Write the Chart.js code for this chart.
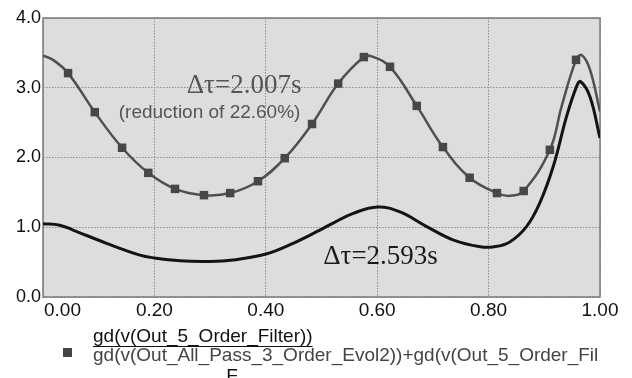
<!DOCTYPE html>
<html>
<head>
<meta charset="utf-8">
<script src="https://cdn.jsdelivr.net/npm/chart.js@4/dist/chart.umd.min.js"></script>
<style>
  body { margin: 0; background: #fff; }
  #wrap { width: 632px; height: 378px; }
</style>
</head>
<body>
<div id="wrap"><canvas id="gdChart" width="632" height="378"></canvas></div>
<script>
// Group delay of the 5th order filter alone (black curve)
const filterX = [0, 0.03, 0.054, 0.114, 0.174, 0.2, 0.246, 0.294, 0.341, 0.402, 0.449, 0.497, 0.521, 0.557, 0.601, 0.641, 0.689, 0.736, 0.785, 0.81, 0.838, 0.868, 0.892, 0.916, 0.94, 0.958, 0.965, 0.982, 1.0];
const filterY = [1.05, 1.03, 0.96, 0.77, 0.60, 0.56, 0.52, 0.51, 0.53, 0.62, 0.77, 0.96, 1.06, 1.20, 1.29, 1.22, 1.01, 0.82, 0.72, 0.72, 0.79, 1.01, 1.35, 1.87, 2.59, 3.02, 3.09, 2.87, 2.28];

// Filter + 3rd order all-pass (gray curve); 1 = square marker drawn at that point
const equalX = [0, 0.018, 0.045, 0.093, 0.142, 0.189, 0.237, 0.289, 0.336, 0.386, 0.434, 0.483, 0.530, 0.576, 0.59, 0.623, 0.671, 0.718, 0.766, 0.815, 0.838, 0.863, 0.910, 0.931, 0.957, 0.967, 0.982, 1.0];
const equalY = [3.46, 3.40, 3.21, 2.65, 2.14, 1.78, 1.55, 1.46, 1.49, 1.66, 1.99, 2.48, 3.06, 3.44, 3.45, 3.30, 2.74, 2.15, 1.71, 1.49, 1.45, 1.52, 2.11, 2.73, 3.40, 3.47, 3.26, 2.66];
const equalMark = [0, 0, 1, 1, 1, 1, 1, 1, 1, 1, 1, 1, 1, 1, 0, 1, 1, 1, 1, 1, 0, 1, 1, 0, 1, 0, 0, 0];

const xTicks = [0, 0.2, 0.4, 0.6, 0.8, 1.0];
const legendLabels = ['gd(v(Out_5_Order_Filter))', 'gd(v(Out_All_Pass_3_Order_Evol2))+gd(v(Out_5_Order_Filter))'];
const xTitle = 'F';

const SANS = "'Liberation Sans', Arial, sans-serif";
const SERIF = "'Liberation Serif', 'Times New Roman', serif";

const toPoints = (xs, ys) => xs.map((x, i) => ({ x: x, y: ys[i] }));

// plot background, frame, x labels, notes and legend
const decor = {
    id: 'decor',
    beforeDraw(chart) {
        const { ctx, chartArea: a } = chart;
        ctx.save();
        ctx.fillStyle = '#dddddd';
        ctx.fillRect(a.left, a.top, a.right - a.left, a.bottom - a.top);
        ctx.restore();
    },
    beforeDatasetsDraw(chart) {
        const { ctx, chartArea: a } = chart;
        ctx.save();
        ctx.strokeStyle = '#7a7a7a';
        ctx.lineWidth = 1.5;
        ctx.strokeRect(a.left, a.top, a.right - a.left, a.bottom - a.top);
        ctx.restore();
    },
    afterDraw(chart) {
        const { ctx, chartArea: a, scales: { x, y } } = chart;
        ctx.save();

        // x tick labels, first one starts at the axis
        ctx.font = '19px ' + SANS;
        ctx.fillStyle = '#111';
        ctx.textBaseline = 'middle';
        xTicks.forEach((v, i) => {
            ctx.textAlign = i === 0 ? 'left' : 'center';
            ctx.fillText(v.toFixed(2), x.getPixelForValue(v) + (i === 0 ? 1 : 0), a.bottom + 14);
        });

        // delay notes
        ctx.textAlign = 'left';
        ctx.textBaseline = 'alphabetic';
        ctx.font = '27px ' + SERIF;
        ctx.fillStyle = '#555';
        ctx.fillText('\u0394\u03c4=2.007s', x.getPixelForValue(0.258), y.getPixelForValue(2.93));
        ctx.font = '19px ' + SANS;
        ctx.fillText('(reduction of 22.60%)', x.getPixelForValue(0.136), y.getPixelForValue(2.57));
        ctx.font = '27px ' + SERIF;
        ctx.fillStyle = '#1a1a1a';
        ctx.fillText('\u0394\u03c4=2.593s', x.getPixelForValue(0.503), y.getPixelForValue(0.47));

        // legend
        ctx.font = '19px ' + SANS;
        ctx.fillStyle = '#111';
        ctx.fillText(legendLabels[0], 93, 342);
        const w = ctx.measureText(legendLabels[0]).width;
        ctx.strokeStyle = '#111';
        ctx.lineWidth = 1;
        ctx.beginPath();
        ctx.moveTo(93, 346.5);
        ctx.lineTo(93 + w, 346.5);
        ctx.stroke();

        ctx.fillStyle = '#444';
        ctx.fillRect(63, 348, 9, 9);
        ctx.save();
        ctx.beginPath();
        ctx.rect(0, 340, 597, 30);
        ctx.clip();
        ctx.fillText(legendLabels[1], 93, 361);
        ctx.restore();

        ctx.fillStyle = '#111';
        ctx.textAlign = 'center';
        ctx.fillText(xTitle, 232, 382);
        ctx.restore();
    }
};

new Chart(document.getElementById('gdChart').getContext('2d'), {
    type: 'line',
    data: {
        datasets: [{
            label: legendLabels[0],
            data: toPoints(filterX, filterY),
            borderColor: '#141414',
            borderWidth: 3,
            pointRadius: 0,
            tension: 0.4
        }, {
            label: legendLabels[1],
            data: toPoints(equalX, equalY),
            borderColor: '#505050',
            borderWidth: 2.5,
            tension: 0.4,
            pointStyle: 'rect',
            pointRadius: ctx => equalMark[ctx.dataIndex] ? 6 : 0,
            pointBackgroundColor: '#474747',
            pointBorderWidth: 0
        }]
    },
    options: {
        responsive: false,
        animation: false,
        layout: { padding: { top: 18, right: 32, left: 0, bottom: 0 } },
        plugins: {
            legend: { display: false },
            tooltip: { enabled: false }
        },
        scales: {
            x: {
                type: 'linear',
                min: 0,
                max: 1,
                ticks: { stepSize: 0.2, display: false },
                grid: { color: '#8c8c8c', drawTicks: false },
                border: { display: false, dash: [1.5, 1.5] },
                afterFit: s => { s.height = 81; }
            },
            y: {
                min: 0,
                max: 4,
                ticks: {
                    stepSize: 1,
                    padding: 2,
                    color: '#111',
                    font: { size: 18, family: SANS },
                    callback: v => v.toFixed(1)
                },
                grid: { color: '#8c8c8c', drawTicks: false },
                border: { display: false, dash: [1.5, 1.5] },
                afterFit: s => { s.width = 43; }
            }
        }
    },
    plugins: [decor]
});
</script>
</body>
</html>
